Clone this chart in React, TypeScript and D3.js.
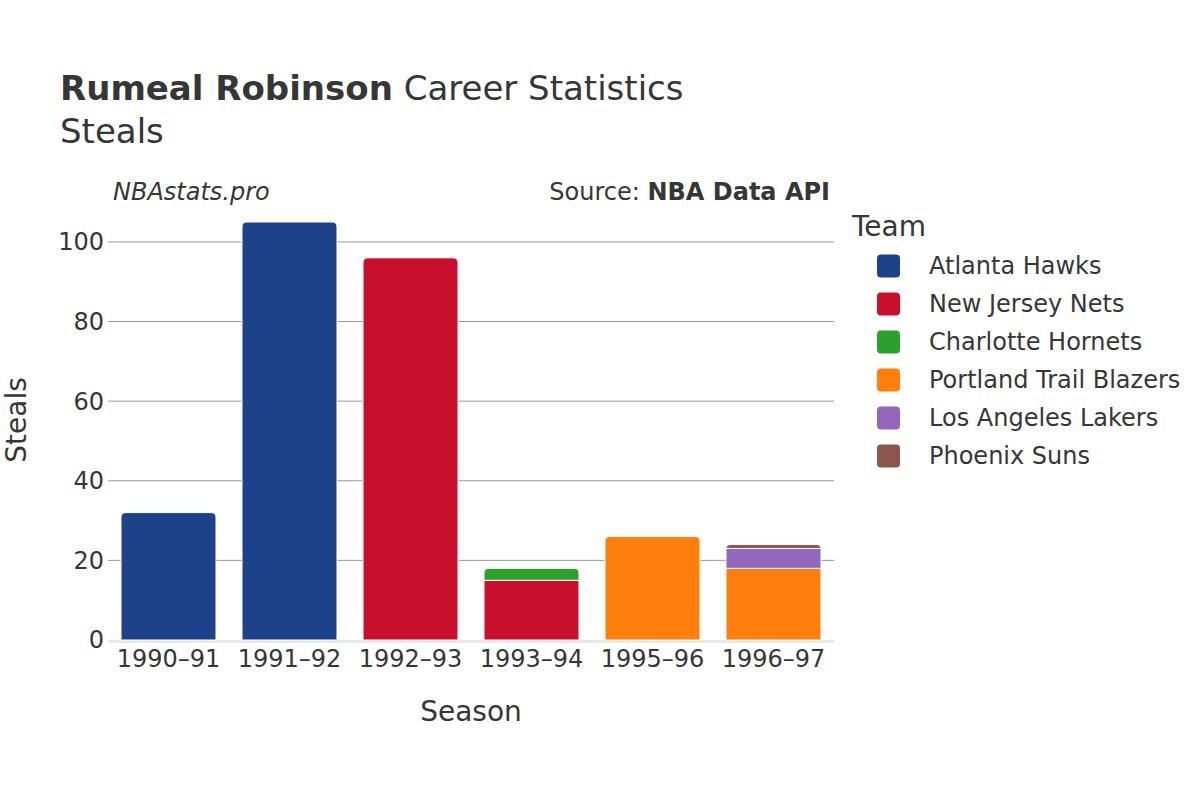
import React from 'react';
import * as d3 from 'd3';

const seasons = ['1990–91', '1991–92', '1992–93', '1993–94', '1995–96', '1996–97'];
const teams = ['Atlanta Hawks', 'New Jersey Nets', 'Charlotte Hornets', 'Portland Trail Blazers', 'Los Angeles Lakers', 'Phoenix Suns'];
const teamColors = ['#1d428a', '#c8102e', '#2ca02c', '#ff7f0e', '#9467bd', '#8c564b'];

// steals per season, one row per team (same order as teams)
const atlanta = [32, 105, 0, 0, 0, 0];
const newJersey = [0, 0, 96, 15, 0, 0];
const charlotte = [0, 0, 0, 3, 0, 0];
const portland = [0, 0, 0, 0, 26, 18];
const lakers = [0, 0, 0, 0, 0, 5];
const phoenix = [0, 0, 0, 0, 0, 1];
const series = [atlanta, newJersey, charlotte, portland, lakers, phoenix];

const yTicks = [0, 20, 40, 60, 80, 100];

const FONT = '"DejaVu Sans", sans-serif';
const TEXT = '#363636';

function topRounded(x: number, y: number, w: number, h: number, r: number) {
  const rr = Math.min(r, h, w / 2);
  return `M${x},${y + h}V${y + rr}Q${x},${y} ${x + rr},${y}H${x + w - rr}Q${x + w},${y} ${x + w},${y + rr}V${y + h}Z`;
}

export default function App() {
  const left = 108;
  const right = 834;
  const top = 222;
  const bottom = 640;

  const x = d3.scaleBand().domain(seasons).range([left, right]).paddingInner(0.215).paddingOuter(0.1075);
  const y = d3.scaleLinear().domain([0, 105]).range([bottom, top]);

  const rows = seasons.map((s, i) => {
    const r: any = { season: s };
    teams.forEach((t, k) => (r[t] = series[k][i]));
    return r;
  });
  const stacked = d3.stack().keys(teams)(rows);

  // top non-empty team per season gets rounded corners
  const topIdx = seasons.map((_, i) => {
    let last = -1;
    series.forEach((arr, k) => {
      if (arr[i] > 0) last = k;
    });
    return last;
  });

  return (
    <svg width={1200} height={800} style={{ position: 'absolute', left: 0, top: 0, background: '#fff' }} fontFamily={FONT}>
      <text x={60} y={100} fontSize={34} fill={TEXT}>
        <tspan fontWeight="bold">Rumeal Robinson</tspan>
        <tspan> Career Statistics</tspan>
      </text>
      <text x={60} y={143} fontSize={34} fill={TEXT}>Steals</text>

      <text x={113} y={200} fontSize={24} fontStyle="italic" fill={TEXT}>NBAstats.pro</text>
      <text x={830} y={200} fontSize={24} textAnchor="end" fill={TEXT}>
        <tspan>Source: </tspan>
        <tspan fontWeight="bold">NBA Data API</tspan>
      </text>

      {yTicks.filter((t) => t > 0).map((t) => (
        <line key={t} x1={left} x2={right} y1={y(t)} y2={y(t)} stroke="#999" strokeWidth={1} />
      ))}
      <line x1={left} x2={right} y1={bottom + 1.5} y2={bottom + 1.5} stroke="#e8e8e8" strokeWidth={3} />

      {yTicks.map((t) => (
        <text key={t} x={104} y={y(t)} dy="0.35em" fontSize={24} textAnchor="end" fill={TEXT}>{t}</text>
      ))}

      {stacked.map((layer, k) => (
        <g key={teams[k]} fill={teamColors[k]}>
          {layer.map((d, i) => {
            if (d[1] - d[0] <= 0) return null;
            const bx = x(seasons[i])!;
            const by = y(d[1]);
            const h = y(d[0]) - y(d[1]);
            const r = topIdx[i] === k ? 5 : 0;
            return <path key={i} d={topRounded(bx, by, x.bandwidth(), h, r)} stroke="#fff" strokeWidth={1} />;
          })}
        </g>
      ))}

      {seasons.map((s) => (
        <text key={s} x={x(s)! + x.bandwidth() / 2} y={667} fontSize={24} textAnchor="middle" fill={TEXT}>{s}</text>
      ))}

      <text x={471} y={721} fontSize={28} textAnchor="middle" fill={TEXT}>Season</text>
      <text transform={`translate(26,420) rotate(-90)`} fontSize={28} textAnchor="middle" fill={TEXT}>Steals</text>

      <text x={852} y={236} fontSize={28} fill={TEXT}>Team</text>
      {teams.map((t, k) => (
        <g key={t} transform={`translate(0,${266 + k * 38})`}>
          <rect x={877} y={-11.5} width={23} height={23} rx={4} fill={teamColors[k]} />
          <text x={929} y={0} dy="0.35em" fontSize={24} fill={TEXT}>{t}</text>
        </g>
      ))}
    </svg>
  );
}
